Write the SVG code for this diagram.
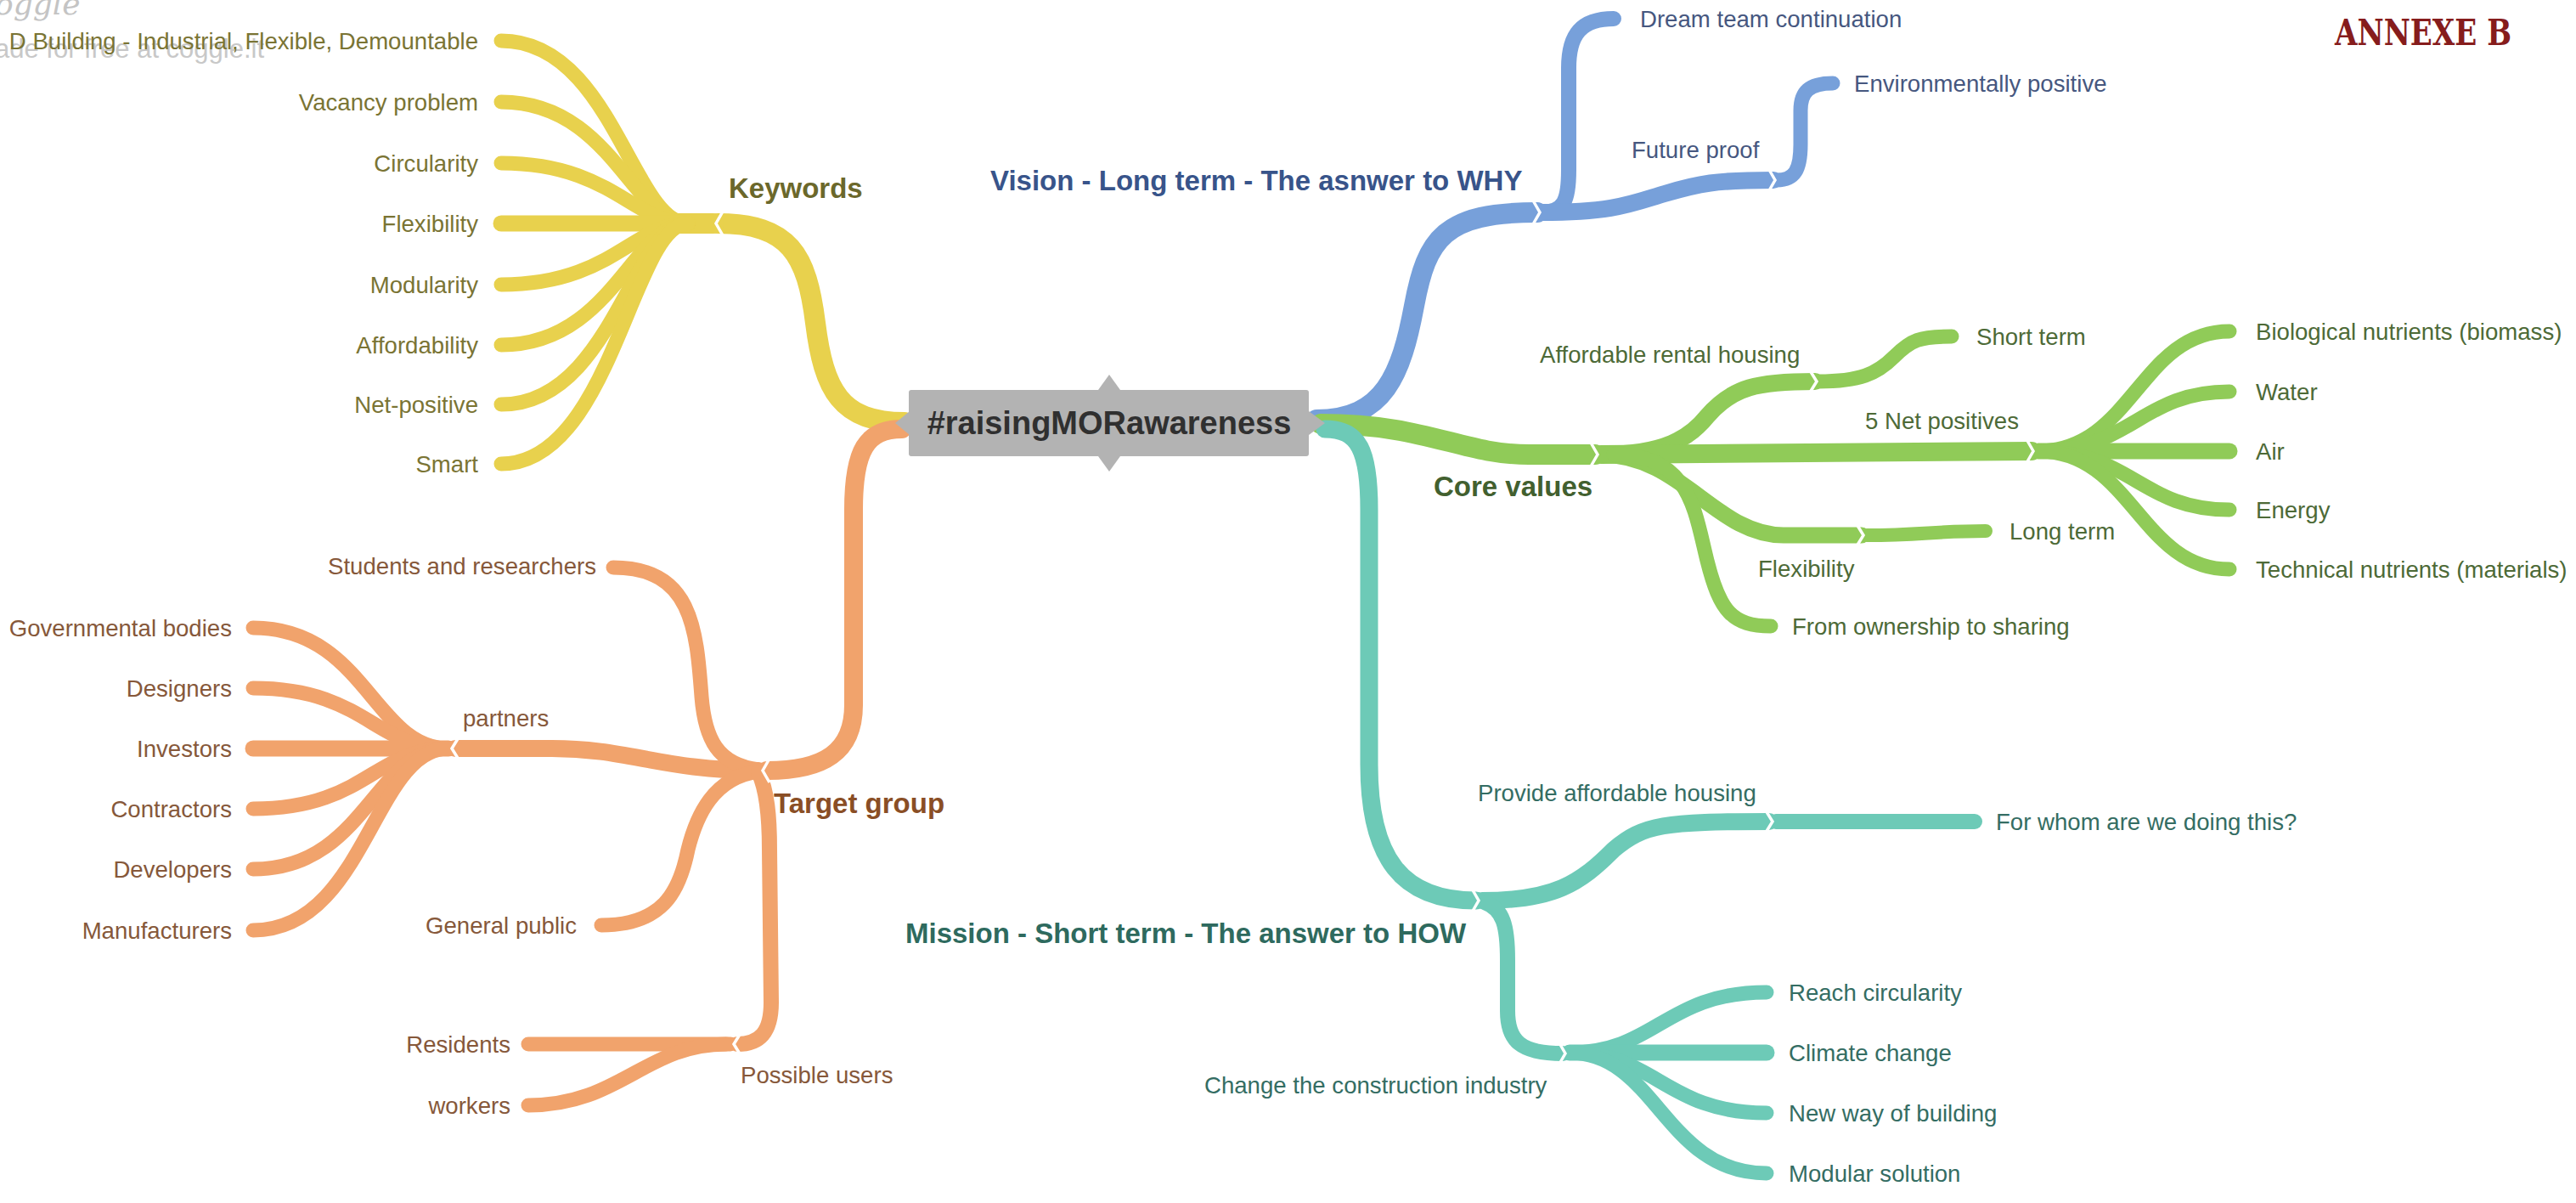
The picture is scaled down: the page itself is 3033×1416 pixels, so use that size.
<svg xmlns="http://www.w3.org/2000/svg" width="3033" height="1416" viewBox="0 0 3033 1416">
<style>
  text { font-family: "Liberation Sans", Arial, sans-serif; font-size: 27.6px; }
  .b { font-weight: bold; font-size: 33px; }
  .end { text-anchor: end; }
  path { fill: none; stroke-linecap: round; stroke-linejoin: round; }
  .y { stroke: #e8d14d; }
  .bl { stroke: #77a0da; }
  .g { stroke: #90cb58; }
  .t { stroke: #6dcab7; }
  .o { stroke: #f1a36c; }
  .w1 { stroke-width: 24; }
  .w2 { stroke-width: 20; }
  .w3 { stroke-width: 17; }
  .chev { fill: none; stroke: #ffffff; stroke-width: 3.5; stroke-linejoin: miter; }
  .ty { fill: #7a7434; } .tyb { fill: #6b682b; }
  .tb { fill: #46577f; } .tbb { fill: #38548a; }
  .tg { fill: #4d6a37; } .tgb { fill: #42602f; }
  .tt { fill: #346d63; } .ttb { fill: #2e6a5e; }
  .to { fill: #86583a; } .tob { fill: #8a4e25; }
</style>
<rect x="0" y="0" width="3033" height="1416" fill="#ffffff"/>

<g id="watermark">
  <text x="-6" y="17" style="font-family:'DejaVu Serif',serif;font-style:italic;font-size:36px;fill:#c4c4c4">oggle</text>
  <text x="-6" y="68" style="font-size:31px;fill:#c8c8c8">ade for free at coggle.it</text>
</g>

<g id="connectors">
  <!-- yellow / Keywords -->
  <path class="y w1" d="M845,263 C930,263 950,300 960,380 C970,460 990,497 1065,497"/>
  <path class="y" stroke-width="24" d="M795,263 L840,263"/>
  <path class="y w3" d="M810,263 C745,263 720,48 590,48"/>
  <path class="y w3" d="M810,263 C745,263 720,120 590,120"/>
  <path class="y w3" d="M810,263 C745,263 720,192 590,192"/>
  <path class="y" stroke-width="19" d="M810,263 L590,263"/>
  <path class="y w3" d="M810,263 C745,263 720,335 590,335"/>
  <path class="y w3" d="M810,263 C745,263 720,406 590,406"/>
  <path class="y w3" d="M810,263 C745,263 720,476 590,476"/>
  <path class="y w3" d="M810,263 C745,263 720,546 590,546"/>

  <!-- blue / Vision -->
  <path class="bl w1" d="M1550,494 C1630,494 1650,440 1665,360 C1680,280 1700,250 1810,250"/>
  <path class="bl" stroke-width="18" d="M1815,250 C1842,250 1847,235 1847,200 L1847,80 C1847,40 1862,22 1900,22"/>
  <path class="bl w2" d="M1815,250 C1900,250 1920,240 1960,228 C2000,216 2020,212 2088,212"/>
  <path class="bl w3" d="M2092,212 C2113,212 2120,200 2120,170 L2120,130 C2120,108 2130,98 2158,98"/>

  <!-- green / Core values -->
  <path class="g w1" d="M1555,499 C1680,499 1720,535 1800,535 L1878,535"/>
  <path class="g w2" d="M1885,535 C1960,535 1990,515 2010,490 C2040,455 2070,449 2137,449"/>
  <path class="g w3" d="M2141,449 C2190,449 2210,440 2230,420 C2250,400 2260,396 2298,396"/>
  <path class="g" stroke-width="22" d="M1885,535 L2392,531"/>
  <path class="g w3" d="M2400,531 C2510,531 2520,390 2625,390"/>
  <path class="g w3" d="M2400,531 C2510,531 2520,461 2625,461"/>
  <path class="g" stroke-width="19" d="M2400,531 L2625,531"/>
  <path class="g w3" d="M2400,531 C2510,531 2520,600 2625,600"/>
  <path class="g w3" d="M2400,531 C2510,531 2520,670 2625,670"/>
  <path class="g" stroke-width="19" d="M1885,535 C1980,535 2020,630 2100,630 L2192,630"/>
  <path class="g" stroke-width="16" d="M2198,630 C2260,630 2280,625 2338,625"/>
  <path class="g w3" d="M1900,535 C1990,535 1995,600 2010,660 C2025,720 2040,737 2085,737"/>

  <!-- teal / Mission -->
  <path class="t" stroke-width="21" d="M1560,505 C1600,505 1612,530 1612,600 L1612,900 C1612,1010 1650,1060 1738,1060"/>
  <path class="t w2" d="M1745,1060 C1830,1060 1860,1040 1900,1000 C1935,970 1960,967 2083,967"/>
  <path class="t" stroke-width="18" d="M2091,967 L2325,967"/>
  <path class="t" stroke-width="18" d="M1748,1062 C1770,1070 1775,1090 1775,1130 L1775,1190 C1775,1225 1790,1240 1840,1240"/>
  <path class="t w3" d="M1848,1239 C1950,1239 1960,1168 2080,1168"/>
  <path class="t" stroke-width="19" d="M1848,1239 L2080,1239"/>
  <path class="t w3" d="M1848,1239 C1950,1239 1960,1310 2080,1310"/>
  <path class="t w3" d="M1848,1239 C1950,1239 1960,1381 2080,1381"/>

  <!-- orange / Target group -->
  <path class="o" stroke-width="22" d="M1062,505 C1020,505 1005,530 1005,600 L1005,830 C1005,885 970,907 903,907"/>
  <path class="o w2" d="M893,907 C780,907 740,881 650,881 L536,881"/>
  <path class="o w3" d="M528,881 C440,881 430,739 298,739"/>
  <path class="o w3" d="M528,881 C440,881 430,810 298,810"/>
  <path class="o" stroke-width="19" d="M528,881 L298,881"/>
  <path class="o w3" d="M528,881 C440,881 430,952 298,952"/>
  <path class="o w3" d="M528,881 C440,881 430,1023 298,1023"/>
  <path class="o w3" d="M528,881 C440,881 430,1095 298,1095"/>
  <path class="o w3" d="M893,906 C845,900 830,870 826,820 C820,740 815,668 722,668"/>
  <path class="o w3" d="M893,908 C840,915 820,960 810,1000 C800,1050 780,1089 708,1089"/>
  <path class="o" stroke-width="18" d="M893,909 C903,930 906,960 906,1000 L908,1180 C908,1215 895,1229 868,1229"/>
  <path class="o w3" d="M860,1229 L622,1229"/>
  <path class="o w3" d="M855,1229 C760,1229 730,1301 622,1301"/>

  <!-- junction chevrons -->
  <polyline class="chev" points="851,249 843,263 851,277"/>
  <polyline class="chev" points="1805,236 1813,250 1805,264"/>
  <polyline class="chev" points="2082,198 2090,212 2082,226"/>
  <polyline class="chev" points="1873,521 1881,535 1873,549"/>
  <polyline class="chev" points="2131,436 2139,449 2131,462"/>
  <polyline class="chev" points="2386,517 2394,531 2386,545"/>
  <polyline class="chev" points="2186,617 2194,630 2186,643"/>
  <polyline class="chev" points="1733,1046 1741,1060 1733,1074"/>
  <polyline class="chev" points="2079,954 2087,967 2079,980"/>
  <polyline class="chev" points="1835,1226 1843,1240 1835,1254"/>
  <polyline class="chev" points="906,893 898,907 906,921"/>
  <polyline class="chev" points="540,868 532,881 540,894"/>
  <polyline class="chev" points="872,1216 864,1229 872,1242"/>
</g>

<g id="root">
  <rect x="1070" y="459" width="471" height="78" rx="3" fill="#b3b3b3"/>
  <polygon points="1293,459 1306,441 1319,459" fill="#b3b3b3"/>
  <polygon points="1293,537 1306,555 1319,537" fill="#b3b3b3"/>
  <polygon points="1071,484 1054,498 1071,512" fill="#b3b3b3"/>
  <polygon points="1541,484 1560,498 1541,512" fill="#b3b3b3"/>
  <text x="1306" y="511" text-anchor="middle" style="font-weight:bold;font-size:38px;fill:#303030">#raisingMORawareness</text>
</g>

<g id="keywords">
  <text class="b tyb" x="858" y="233">Keywords</text>
  <text class="end ty" x="563" y="58">D Building - Industrial, Flexible, Demountable</text>
  <text class="end ty" x="563" y="130">Vacancy problem</text>
  <text class="end ty" x="563" y="202">Circularity</text>
  <text class="end ty" x="563" y="273">Flexibility</text>
  <text class="end ty" x="563" y="345">Modularity</text>
  <text class="end ty" x="563" y="416">Affordability</text>
  <text class="end ty" x="563" y="486">Net-positive</text>
  <text class="end ty" x="563" y="556">Smart</text>
</g>

<g id="vision">
  <text class="b tbb" x="1166" y="224">Vision - Long term - The asnwer to WHY</text>
  <text class="tb" x="1931" y="32">Dream team continuation</text>
  <text class="tb" x="1921" y="186">Future proof</text>
  <text class="tb" x="2183" y="108">Environmentally positive</text>
</g>

<g id="core-values">
  <text class="b tgb" x="1688" y="584">Core values</text>
  <text class="tg" x="1813" y="427">Affordable rental housing</text>
  <text class="tg" x="2327" y="406">Short term</text>
  <text class="tg" x="2196" y="505">5 Net positives</text>
  <text class="tg" x="2656" y="400">Biological nutrients (biomass)</text>
  <text class="tg" x="2656" y="471">Water</text>
  <text class="tg" x="2656" y="541">Air</text>
  <text class="tg" x="2656" y="610">Energy</text>
  <text class="tg" x="2656" y="680">Technical nutrients (materials)</text>
  <text class="tg" x="2070" y="679">Flexibility</text>
  <text class="tg" x="2366" y="635">Long term</text>
  <text class="tg" x="2110" y="747">From ownership to sharing</text>
</g>

<g id="mission">
  <text class="b ttb" x="1066" y="1110">Mission - Short term - The answer to HOW</text>
  <text class="tt" x="1740" y="943">Provide affordable housing</text>
  <text class="tt" x="2350" y="977">For whom are we doing this?</text>
  <text class="tt" x="1418" y="1287">Change the construction industry</text>
  <text class="tt" x="2106" y="1178">Reach circularity</text>
  <text class="tt" x="2106" y="1249">Climate change</text>
  <text class="tt" x="2106" y="1320">New way of building</text>
  <text class="tt" x="2106" y="1391">Modular solution</text>
</g>

<g id="target-group">
  <text class="b tob" x="911" y="957">Target group</text>
  <text class="end to" x="702" y="676">Students and researchers</text>
  <text class="to" x="545" y="855">partners</text>
  <text class="end to" x="273" y="749">Governmental bodies</text>
  <text class="end to" x="273" y="820">Designers</text>
  <text class="end to" x="273" y="891">Investors</text>
  <text class="end to" x="273" y="962">Contractors</text>
  <text class="end to" x="273" y="1033">Developers</text>
  <text class="end to" x="273" y="1105">Manufacturers</text>
  <text class="end to" x="679" y="1099">General public</text>
  <text class="to" x="872" y="1275">Possible users</text>
  <text class="end to" x="601" y="1239">Residents</text>
  <text class="end to" x="601" y="1311">workers</text>
</g>

<g id="annexe">
  <text x="2749" y="53" textLength="208" lengthAdjust="spacingAndGlyphs" style="font-family:'DejaVu Serif','Liberation Serif',serif;font-weight:bold;font-size:42px;fill:#861c1c">ANNEXE B</text>
</g>
</svg>
